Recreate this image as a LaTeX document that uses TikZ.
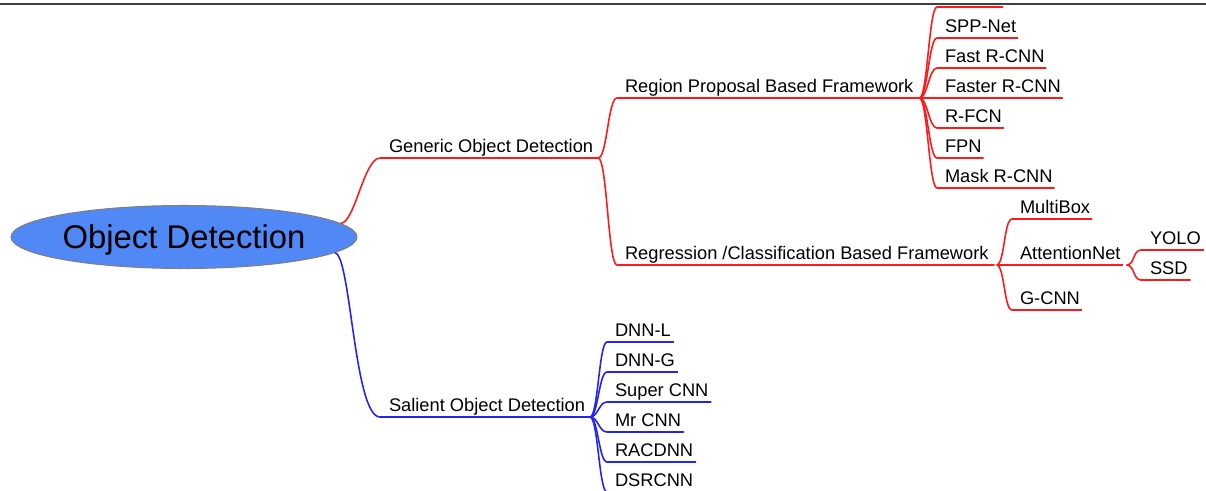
\documentclass[tikz,border=0pt]{standalone}
\usepackage{fontspec}
\setmainfont{Liberation Sans}
\usetikzlibrary{calc,shapes.geometric}

\definecolor{mapred}{RGB}{255,25,25}
\definecolor{mapblue}{RGB}{35,35,245}
\definecolor{rootblue}{RGB}{80,136,245}

\tikzset{
  leaf/.style={anchor=south west, inner xsep=0pt, inner ysep=0pt, outer sep=0pt,
    text depth=3.2pt, font=\fontsize{10.4}{12}\selectfont},
  root/.style={ellipse, draw=gray, fill=rootblue, line width=0.6pt,
    minimum width=6.92cm, minimum height=1.26cm, inner sep=0pt, text depth=0pt,
    font=\fontsize{18.7}{22}\selectfont},
  redbranch/.style={mapred, line width=0.9pt},
  bluebranch/.style={mapblue, line width=0.9pt},
}

\begin{document}
\begin{tikzpicture}[x=0.02cm, y=-0.02cm]
    \useasboundingbox (0,0) rectangle (1206,490);

    % Rule at the top
    \draw[black!75, line width=1.4pt] (0,4) -- (1206,4);

    % Root
    \node[root] (od) at (184,237) {Object Detection};

    % First level
    \node[leaf] (god) at (389,158) {Generic Object Detection};
    \node[leaf] (sod) at (389,417) {Salient Object Detection};

    % Second level
    \node[leaf] (rpf) at (625,98) {Region Proposal Based Framework};
    \node[leaf] (rcf) at (625,265) {Regression /Classification Based Framework};

    % Region proposal methods
    \coordinate (rp0) at (937,7);
    \coordinate (rp0end) at (1003,7);
    \foreach \name/\y [count=\i] in {SPP-Net/38, Fast R-CNN/68, Faster R-CNN/98, R-FCN/128, FPN/158, Mask R-CNN/188}
        \node[leaf] (rp\i) at (945,\y) {\name};

    % Regression / classification methods
    \node[leaf] (mbox) at (1020,219) {MultiBox};
    \node[leaf] (attn) at (1020,265) {AttentionNet};
    \node[leaf] (gcnn) at (1020,310) {G-CNN};
    \node[leaf] (yolo) at (1150,250) {YOLO};
    \node[leaf] (ssd) at (1150,280) {SSD};

    % Salient methods
    \foreach \name/\y [count=\i] in {DNN-L/342, DNN-G/372, Super CNN/402, Mr CNN/432, RACDNN/462, DSRCNN/492}
        \node[leaf] (sal\i) at (615,\y) {\name};

    % Fork points (end of each parent underline)
    \coordinate (godfork) at ([xshift=0.1cm]god.south east);
    \coordinate (sodfork) at ([xshift=0.1cm]sod.south east);
    \coordinate (rpffork) at ([xshift=0.12cm]rpf.south east);
    \coordinate (rcffork) at ([xshift=0.16cm]rcf.south east);
    \coordinate (attnfork) at ([xshift=0.12cm]attn.south east);

    % Branches from the root
    \draw[redbranch] (od.5) .. controls +(14,0) and +(-16,0) .. ([xshift=-0.18cm]god.south west) -- (godfork);
    \draw[bluebranch] (od.-6) .. controls +(16,0) and +(-26,0) .. ([xshift=-0.18cm]sod.south west) -- (sodfork);

    % Generic branch
    \foreach \c in {rpf,rcf}
        \draw[redbranch] (godfork) .. controls +(9,0) and +(-9,0) .. ([xshift=-0.16cm]\c.south west) -- ([xshift=0.12cm]\c.south east);

    % Region proposal branch
    \draw[redbranch] (rpffork) .. controls +(8,0) and +(-8,0) .. (rp0) -- (rp0end);
    \foreach \i in {1,...,6}
        \draw[redbranch] (rpffork) .. controls +(8,0) and +(-8,0) .. ([xshift=-0.16cm]rp\i.south west) -- ([xshift=0.04cm]rp\i.south east);

    % Regression branch
    \foreach \c in {mbox,attn,gcnn}
        \draw[redbranch] (rcffork) .. controls +(8,0) and +(-8,0) .. ([xshift=-0.16cm]\c.south west) -- ([xshift=0.04cm]\c.south east);
    \foreach \c in {yolo,ssd}
        \draw[redbranch] (attnfork) .. controls +(8,0) and +(-8,0) .. ([xshift=-0.18cm]\c.south west) -- ([xshift=0.06cm]\c.south east);

    % Salient branch
    \foreach \i in {1,...,6}
        \draw[bluebranch] (sodfork) .. controls +(8,0) and +(-8,0) .. ([xshift=-0.16cm]sal\i.south west) -- ([xshift=0.06cm]sal\i.south east);
\end{tikzpicture}
\end{document}
